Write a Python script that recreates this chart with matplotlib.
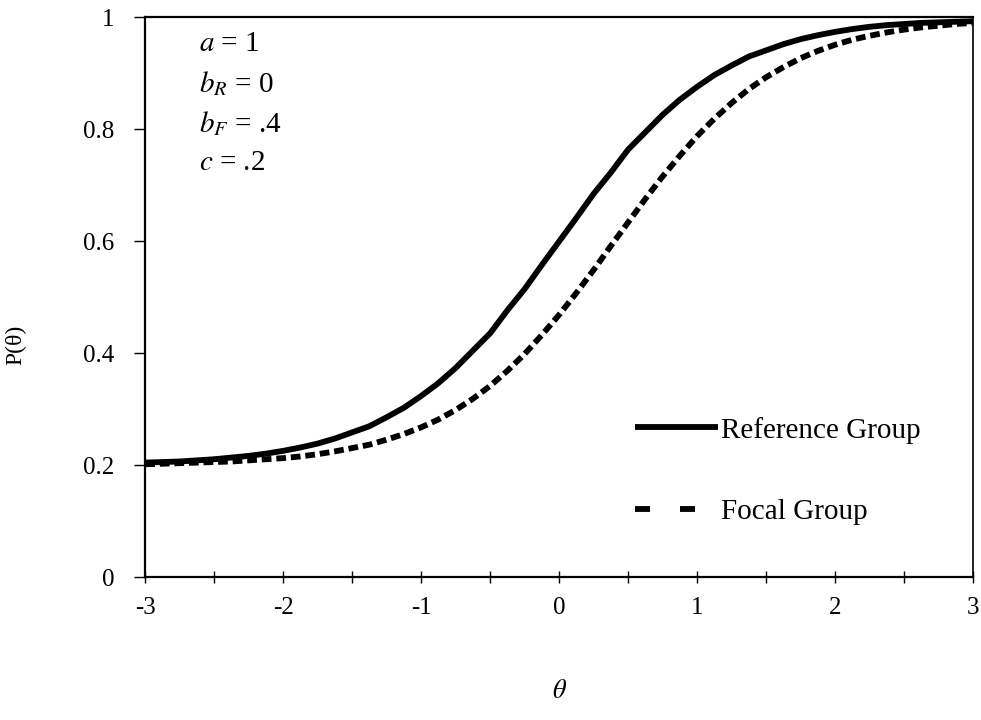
import matplotlib
matplotlib.use('Agg')
import matplotlib.pyplot as plt
from matplotlib.lines import Line2D
from matplotlib.ticker import MultipleLocator

# values (theta step 0.125)
theta = [-3, -2.875, -2.75, -2.625, -2.5, -2.375, -2.25, -2.125,
         -2, -1.875, -1.75, -1.625, -1.5, -1.375, -1.25, -1.125,
         -1, -0.875, -0.75, -0.625, -0.5, -0.375, -0.25, -0.125,
         0, 0.125, 0.25, 0.375, 0.5, 0.625, 0.75, 0.875,
         1, 1.125, 1.25, 1.375, 1.5, 1.625, 1.75, 1.875,
         2, 2.125, 2.25, 2.375, 2.5, 2.625, 2.75, 2.875, 3]
p_reference = [0.205, 0.206, 0.207, 0.209, 0.211, 0.214, 0.217, 0.221,
               0.226, 0.232, 0.239, 0.248, 0.259, 0.270, 0.286, 0.303,
               0.324, 0.347, 0.374, 0.405, 0.436, 0.477, 0.515, 0.558,
               0.600, 0.642, 0.685, 0.723, 0.764, 0.795, 0.826, 0.853,
               0.876, 0.897, 0.914, 0.930, 0.941, 0.952, 0.961, 0.968,
               0.974, 0.979, 0.983, 0.986, 0.988, 0.990, 0.991, 0.992, 0.993]
p_focal = [0.202, 0.203, 0.204, 0.205, 0.206, 0.207, 0.209, 0.211,
           0.213, 0.216, 0.220, 0.225, 0.231, 0.237, 0.246, 0.256,
           0.268, 0.282, 0.299, 0.319, 0.342, 0.369, 0.399, 0.433,
           0.469, 0.508, 0.549, 0.592, 0.634, 0.676, 0.716, 0.753,
           0.788, 0.819, 0.847, 0.872, 0.893, 0.911, 0.927, 0.940,
           0.951, 0.960, 0.967, 0.973, 0.978, 0.982, 0.985, 0.988, 0.990]
params = [r'$a$ = 1', r'$b_R$ = 0', r'$b_F$ = .4', r'$c$ = .2']
series_names = ['Reference Group', 'Focal Group']

plt.rcParams['font.family'] = ['Liberation Serif', 'DejaVu Serif']
plt.rcParams['mathtext.fontset'] = 'stix'
plt.rcParams['lines.scale_dashes'] = False
plt.rcParams['axes.unicode_minus'] = False

fig = plt.figure(figsize=(9.81, 7.2), dpi=100)
ax = fig.add_axes([0.148, 0.198, 0.844, 0.778])

ax.plot(theta, p_reference, color='black', lw=4.2, solid_capstyle='butt')
ax.plot(theta, p_focal, color='black', lw=4.2, dashes=(7, 3.5), dash_capstyle='butt')

ax.set_xlim(-3, 3)
ax.set_ylim(0, 1)
ax.xaxis.set_major_locator(MultipleLocator(1))
ax.xaxis.set_minor_locator(MultipleLocator(0.5))
ax.set_yticks([0, 0.2, 0.4, 0.6, 0.8, 1])
ax.set_yticklabels(['0', '0.2', '0.4', '0.6', '0.8', '1'])
ax.tick_params(axis='x', which='both', direction='inout', length=8, width=1,
               labelsize=18, pad=10)
ax.tick_params(axis='y', direction='out', length=8, width=1, labelsize=18, pad=14)

for s in ax.spines.values():
    s.set_linewidth(1.6)
ax.spines['right'].set_linewidth(1.2)

ax.set_xlabel(r'$\theta$', fontsize=19)
ax.xaxis.set_label_coords(0.5, -0.183)
ax.set_ylabel('P(θ)', fontsize=17)
ax.yaxis.set_label_coords(-0.143, 0.415)

for i, txt in enumerate(params):
    ax.text(0.065, 0.952 - i * 0.071, txt, transform=ax.transAxes,
            fontsize=21, va='center', ha='left')

handles = [Line2D([], [], color='black', lw=4.2, solid_capstyle='butt'),
           Line2D([], [], color='black', lw=4.2, dashes=(10.8, 21.6), dash_capstyle='butt')]
ax.legend(handles, series_names, loc='upper left', bbox_to_anchor=(0.592, 0.287),
          frameon=False, fontsize=21, handlelength=2.85, handletextpad=0.08,
          labelspacing=1.9, borderpad=0, borderaxespad=0)

plt.savefig('out.png', dpi=100)
